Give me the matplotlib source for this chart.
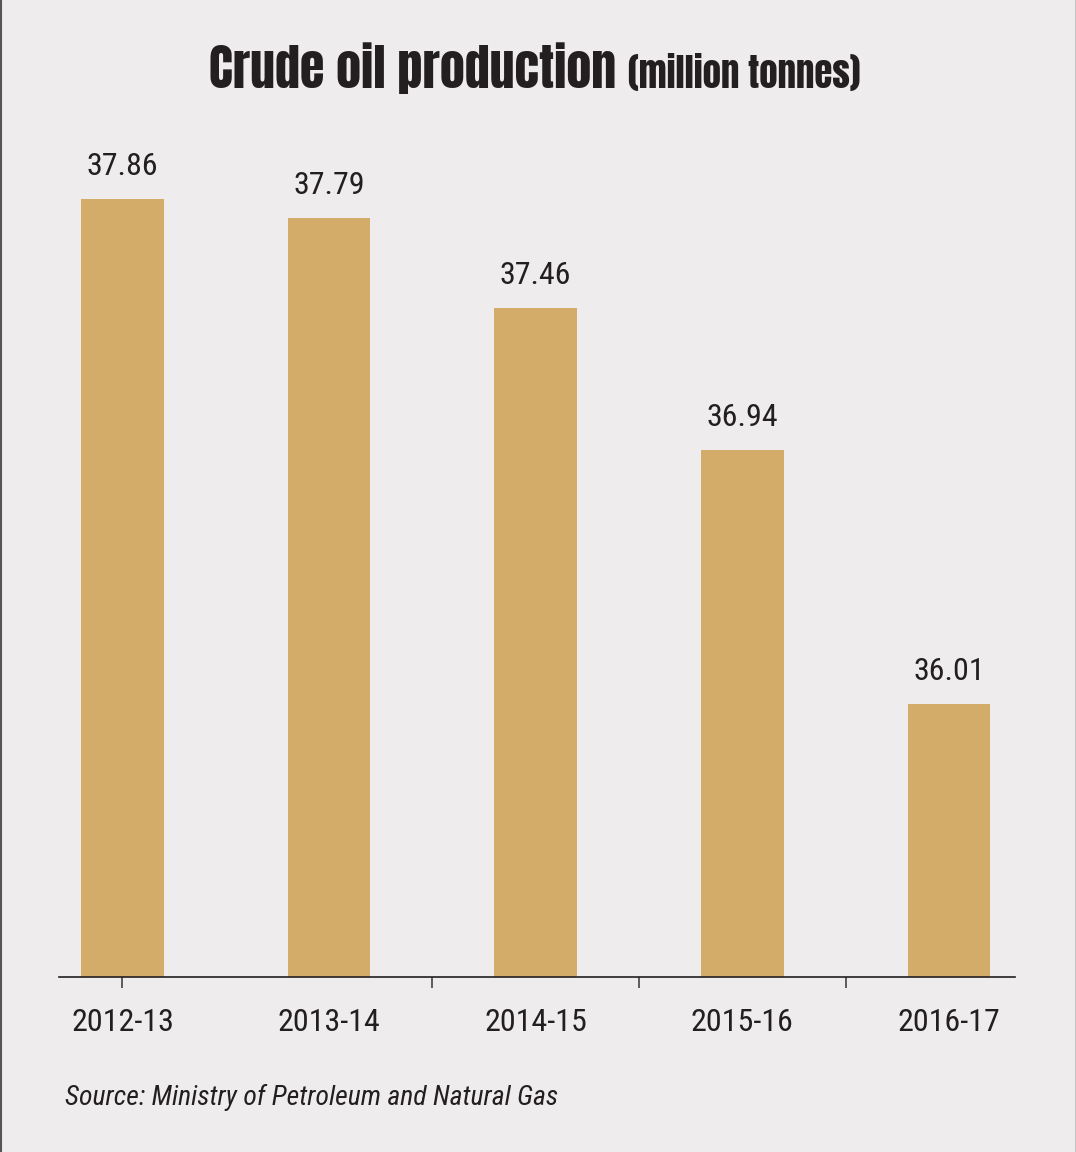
import matplotlib
matplotlib.use("Agg")
import matplotlib.pyplot as plt
import numpy as np

# data
years = ["2012-13", "2013-14", "2014-15", "2015-16", "2016-17"]
production = [37.86, 37.79, 37.46, 36.94, 36.01]
divider_ticks = [0, 1.5, 2.5, 3.5]

bg = "#eeeced"
bar_col = "#d4ac6a"
ink = "#231f20"
font = ["Roboto Condensed", "DejaVu Sans"]
title_font = ["Anton", "DejaVu Sans"]

W, H = 1076, 1152
fig = plt.figure(figsize=(W / 100, H / 100), dpi=100, facecolor=bg)

# axes placed in pixels: baseline at y=977, 273 px per million tonnes
ax_left, ax_right, ax_bottom, ax_top = 59, 1014.5, 977, 120
ax = fig.add_axes([ax_left / W, 1 - ax_bottom / H,
                   (ax_right - ax_left) / W, (ax_bottom - ax_top) / H])
ax.set_facecolor(bg)

x = np.arange(len(years))
ax.bar(x, production, width=0.40, color=bar_col, zorder=2)
ax.set_ylim(35.01, 35.01 + (ax_bottom - ax_top) / 273.0)
ax.set_xlim(-0.307, 4.317)

for xi, v in zip(x, production):
    ax.annotate(f"{v:.2f}", (xi, v), xytext=(0, 17.5), textcoords="offset points",
                ha="center", va="baseline", fontsize=23, color=ink,
                family=font, stretch="condensed")

for s in ["top", "right", "left"]:
    ax.spines[s].set_visible(False)
ax.spines["bottom"].set_color(ink)
ax.spines["bottom"].set_linewidth(1.2)
ax.set_yticks([])
ax.xaxis.remove_overlapping_locs = False
ax.set_xticks(x)
ax.set_xticklabels(years, fontsize=23, color=ink, family=font, stretch="condensed")
ax.tick_params(axis="x", which="major", length=0, pad=22)
ax.set_xticks(divider_ticks, minor=True)
ax.tick_params(axis="x", which="minor", length=8, width=1.2, color="#444444")

# title in two parts
fig.text(616 / W, 1 - 88 / H, "Crude oil production", ha="right", va="baseline",
         fontsize=36, fontweight="bold", stretch="condensed", color=ink, family=title_font)
fig.text(628 / W, 1 - 88 / H, "(million tonnes)", ha="left", va="baseline",
         fontsize=26.5, fontweight="bold", stretch="condensed", color=ink, family=title_font)

fig.text(65 / W, 1 - 1105 / H, "Source: Ministry of Petroleum and Natural Gas",
         ha="left", va="baseline", fontsize=20, style="italic", stretch="condensed",
         color=ink, family=font)

# frame edges
fig.add_artist(plt.Line2D([1 / W, 1 / W], [0, 1], color="#555555", lw=1.5))
fig.add_artist(plt.Line2D([1 - 0.5 / W, 1 - 0.5 / W], [0, 1], color=ink, lw=1))

fig.savefig("out.png", dpi=100, facecolor=bg)
